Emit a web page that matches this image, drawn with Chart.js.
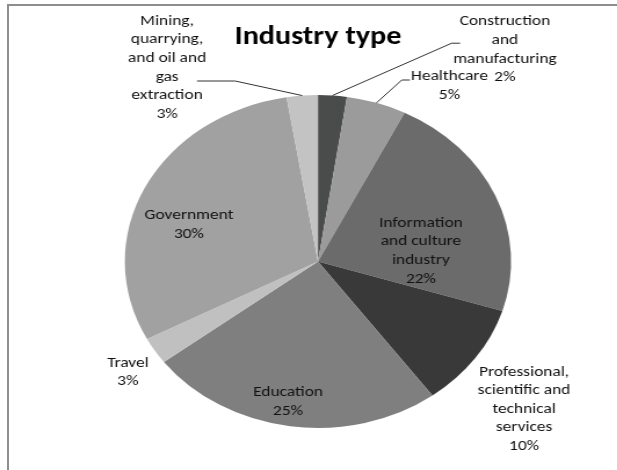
<!DOCTYPE html>
<html>
<head>
<meta charset="utf-8">
<script src="https://cdn.jsdelivr.net/npm/chart.js@4"></script>
<style>
  html, body { margin: 0; padding: 0; background: #ffffff; overflow: hidden; }
  #frame { position: absolute; left: 7px; top: 4px; width: 700px; height: 600px;
           border-top: 2px solid #8e8e8e; border-left: 2px solid #8e8e8e; }
  #wrap { position: absolute; left: 0; top: 0; width: 532px; height: 470px;
          transform: scaleX(1.16); transform-origin: 0 0; }
</style>
</head>
<body>
<div id="frame"></div>
<div id="wrap"><canvas id="c" width="532" height="470"></canvas></div>
<script>
// ---- data ----
const title = "Industry type";
const categories = [
  ["Construction", "and", "manufacturing"],
  ["Healthcare"],
  ["Information", "and culture", "industry"],
  ["Professional,", "scientific and", "technical", "services"],
  ["Education"],
  ["Travel"],
  ["Government"],
  ["Mining,", "quarrying,", "and oil and", "gas", "extraction"]
];
const values = [2.4, 5.0, 22.4, 10.1, 24.8, 2.6, 30.1, 2.6];
const colors = ["#4a4b4b", "#9b9b9b", "#6b6b6b", "#393939", "#7f7f7f", "#c0c0c0", "#a1a1a1", "#c3c3c3"];

// ---- label layout (relative to pie centre, in radius units) ----
const labelPos = [
  {x: 0.968, y: -1.273}, {x: 0.681, y: -1.054}, {x: 0.533, y: -0.063}, {x: 1.067, y: 0.886},
  {x: -0.155, y: 0.844}, {x: -0.984, y: 0.664}, {x: -0.668, y: -0.219}, {x: -0.781, y: -1.165}
];
// leader lines: elbow and end (radius units), null = no leader
const leaders = [
  {ex: 0.692, ey: -1.311, tx: 0.736},
  {ex: 0.434, ey: -1.090, tx: 0.476},
  null, null, null, null, null,
  {ex: -0.429, ey: -1.084, tx: -0.626}
];

const FONT = "Carlito, Lato, 'Open Sans', sans-serif";
const LINE_H = 18.6;

const labelPlugin = {
  id: 'pieLabels',
  afterDraw(chart) {
    const ctx = chart.ctx;
    const meta = chart.getDatasetMeta(0);
    const a0 = meta.data[0];
    const cx = a0.x, cy = a0.y, R = a0.outerRadius;
    const total = values.reduce((s, v) => s + v, 0);
    ctx.save();
    // title
    ctx.fillStyle = "#000000";
    ctx.font = "bold 26px " + FONT;
    ctx.textAlign = "center";
    ctx.textBaseline = "middle";
    ctx.fillText(title, cx, 37);
    // leader lines
    ctx.strokeStyle = "#333333";
    ctx.lineWidth = 1;
    meta.data.forEach((arc, i) => {
      const L = leaders[i];
      if (!L) return;
      const mid = (arc.startAngle + arc.endAngle) / 2;
      ctx.beginPath();
      ctx.moveTo(cx + R * Math.cos(mid), cy + R * Math.sin(mid));
      ctx.lineTo(cx + L.ex * R, cy + L.ey * R);
      ctx.lineTo(cx + L.tx * R, cy + L.ey * R);
      ctx.stroke();
    });
    // labels
    ctx.fillStyle = "#111111";
    ctx.font = "15px " + FONT;
    meta.data.forEach((arc, i) => {
      const lines = categories[i].slice();
      lines.push(Math.round(values[i] / total * 100) + "%");
      const px = cx + labelPos[i].x * R;
      const py = cy + labelPos[i].y * R;
      const top = py - (lines.length - 1) * LINE_H / 2;
      lines.forEach((t, k) => ctx.fillText(t, px, top + k * LINE_H));
    });
    ctx.restore();
  }
};

new Chart(document.getElementById('c'), {
  type: 'pie',
  data: {
    labels: categories.map(c => c.join(' ')),
    datasets: [{ data: values, backgroundColor: colors, borderWidth: 0 }]
  },
  options: {
    responsive: false,
    animation: false,
    layout: { padding: { top: 95, bottom: 42, left: 107.6, right: 91.4 } },
    plugins: { legend: { display: false }, tooltip: { enabled: false }, title: { display: false } }
  },
  plugins: [labelPlugin]
});
</script>
</body>
</html>
